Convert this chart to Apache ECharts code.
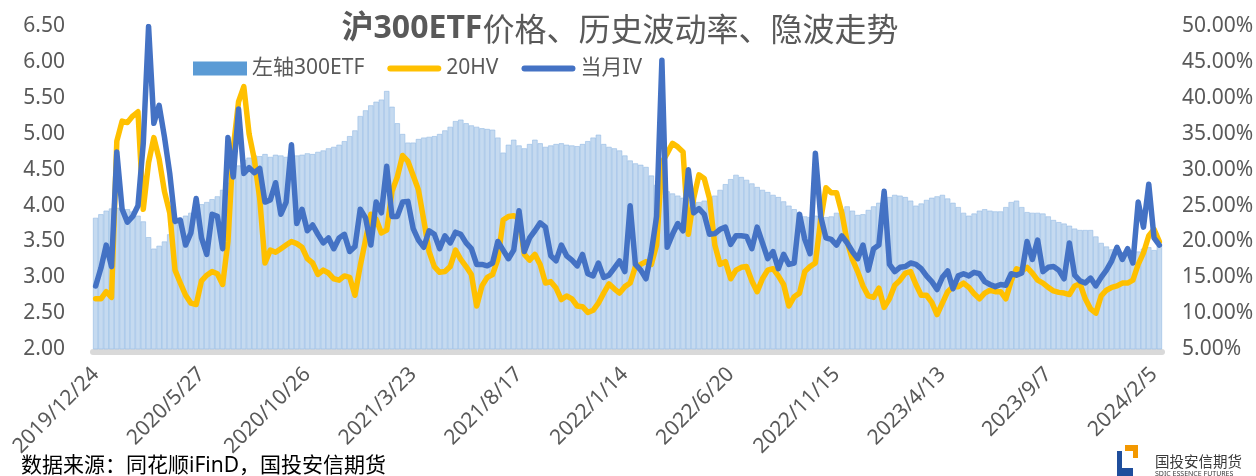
<!DOCTYPE html>
<html>
<head>
<meta charset="utf-8">
<script src="https://cdn.jsdelivr.net/npm/echarts@6/dist/echarts.min.js"></script>
<style>
html,body{margin:0;padding:0;background:#fff;}
#chart{width:1256px;height:476px;}
</style>
</head>
<body>
<div id="chart"></div>
<script>
// x轴标签，每20个点一个
var tickLabels = ['2019/12/24','2020/5/27','2020/10/26','2021/3/23','2021/8/17','2022/1/14','2022/6/20','2022/11/15','2023/4/13','2023/9/7','2024/2/5'];
var step = 20;

// 左轴 300ETF 价格
var etfPrice = [
  3.83,3.88,3.93,3.96,3.97,3.96,3.95,3.92,3.86,3.78,
  3.56,3.40,3.44,3.50,3.60,3.74,3.80,3.86,3.90,3.96,
  4.02,4.05,4.09,4.13,4.22,4.32,4.46,4.56,4.64,4.67,
  4.70,4.69,4.72,4.68,4.71,4.70,4.68,4.72,4.70,4.71,
  4.73,4.72,4.75,4.77,4.80,4.82,4.85,4.90,4.97,5.05,
  5.25,5.33,5.40,5.45,5.48,5.60,5.38,5.15,5.00,4.88,
  4.88,4.93,4.95,4.96,4.97,5.00,5.05,5.10,5.18,5.20,
  5.15,5.12,5.10,5.08,5.07,5.06,4.95,4.74,4.85,4.92,
  4.84,4.80,4.86,4.92,4.87,4.82,4.84,4.86,4.87,4.85,
  4.84,4.83,4.86,4.90,4.95,4.99,4.86,4.82,4.80,4.77,
  4.70,4.63,4.59,4.57,4.54,4.42,4.29,4.24,4.20,4.17,
  4.14,4.11,4.08,4.06,4.05,4.07,4.09,4.14,4.22,4.30,
  4.37,4.43,4.40,4.36,4.31,4.26,4.22,4.19,4.15,4.12,
  4.06,4.00,3.95,3.90,3.85,3.84,3.86,3.85,3.84,3.85,
  3.90,3.95,3.99,3.93,3.87,3.88,3.94,3.99,4.04,4.08,
  4.12,4.15,4.14,4.12,4.07,4.00,4.03,4.08,4.11,4.13,
  4.15,4.10,4.04,3.98,3.90,3.86,3.89,3.93,3.95,3.93,
  3.92,3.92,3.98,4.05,4.07,3.98,3.91,3.90,3.90,3.89,
  3.85,3.80,3.77,3.75,3.72,3.68,3.66,3.66,3.66,3.57,
  3.48,3.43,3.39,3.37,3.35,3.34,3.33,3.36,3.40,3.42,
  3.38,3.44
];

// 20日历史波动率 (%)
var hv20 = [
  12.0,12.0,13.0,12.2,34.0,36.8,36.6,37.5,38.1,24.5,
  31.0,34.5,31.5,27.0,24.0,16.0,14.2,12.5,11.4,11.2,
  14.5,15.3,15.8,15.5,14.0,20.0,33.0,39.5,41.6,35.0,
  31.4,26.0,17.0,18.8,18.5,19.0,19.5,20.0,19.7,19.2,
  17.6,17.0,15.4,16.0,15.6,14.8,14.6,15.2,15.0,12.5,
  16.6,20.2,23.8,23.1,21.2,21.6,27.0,29.0,32.0,31.2,
  29.2,27.2,23.0,18.6,16.5,15.7,15.8,16.5,18.8,17.5,
  16.5,15.4,11.0,13.8,15.0,15.4,17.5,23.0,23.5,23.6,
  23.2,18.2,17.4,18.2,16.8,14.2,14.4,13.5,11.9,12.4,
  12.0,11.0,10.9,10.1,10.4,11.4,12.8,14.1,13.4,12.8,
  13.7,14.2,16.5,16.8,17.2,16.8,19.5,31.0,32.3,33.7,
  33.2,32.5,21.0,26.0,29.3,28.8,26.0,19.5,16.8,17.2,
  14.8,16.0,16.4,16.5,14.5,13.0,14.8,16.0,16.2,15.2,
  14.0,11.0,12.3,12.8,15.8,16.5,17.0,23.0,27.5,26.8,
  26.8,24.0,20.0,17.5,15.8,13.8,12.4,12.2,13.5,10.8,
  12.0,13.9,14.6,15.6,15.8,14.0,12.5,12.5,11.5,9.8,
  11.4,13.0,13.7,13.7,14.2,13.6,12.7,12.0,12.8,13.2,
  13.0,13.0,12.0,14.5,16.2,15.9,16.4,15.6,14.6,14.2,
  13.6,13.1,12.9,12.8,12.6,13.8,14.1,12.0,10.6,10.0,
  12.4,13.2,13.6,13.8,14.2,14.2,14.6,16.8,18.4,20.8,
  21.7,20.0
];

// 当月隐含波动率 (%)
var ivMonth = [
  13.8,16.3,19.5,16.5,32.5,24.5,22.7,23.5,25.0,33.7,
  50.0,36.5,39.0,34.6,29.5,22.8,23.0,19.5,21.2,26.0,
  20.5,18.2,23.8,23.5,19.0,34.5,29.0,38.5,29.5,30.3,
  29.6,30.2,25.5,25.8,28.2,23.8,25.5,33.5,22.5,24.5,
  21.5,22.3,21.0,19.8,20.5,19.0,20.5,21.0,18.6,19.3,
  24.5,23.3,19.5,25.5,24.0,30.5,23.5,23.5,25.5,25.6,
  21.8,20.2,19.2,21.5,21.0,19.0,20.8,19.8,21.3,21.0,
  19.8,19.0,16.8,16.8,16.6,17.0,20.0,18.8,17.6,18.8,
  24.3,18.6,20.5,21.5,22.6,22.0,18.0,17.3,19.5,18.0,
  17.4,16.6,18.2,15.5,15.2,17.0,15.0,15.3,16.3,17.3,
  15.8,25.0,16.8,16.0,14.8,18.5,23.5,45.3,19.2,21.0,
  22.5,21.5,30.0,24.0,24.6,23.8,21.0,21.1,21.7,22.0,
  19.6,20.8,20.8,20.7,19.0,22.0,19.8,17.6,18.6,16.2,
  18.2,16.8,17.0,23.8,20.3,18.3,32.3,23.5,20.5,20.3,
  19.5,20.8,19.8,18.6,17.6,19.5,16.0,19.0,19.5,27.0,
  16.8,15.8,16.4,16.5,17.0,16.8,16.2,15.2,14.4,13.3,
  15.0,15.9,13.4,15.2,15.5,15.2,15.7,15.5,14.4,14.0,
  13.7,14.0,13.9,15.5,15.3,15.6,20.0,17.5,20.2,15.8,
  16.4,16.5,16.0,14.8,19.8,15.3,14.5,14.2,14.9,13.8,
  15.0,16.0,17.3,19.2,17.5,19.0,17.0,25.5,22.0,28.0,
  20.5,19.5
];

var days = etfPrice.map(function (v, i) { return 'd' + i; });

var fontLatin = "'Noto Sans', 'Noto Sans CJK SC', sans-serif";
var lineIcon = 'path://M0,0M54,14M3,4h48a3,3,0,0,1,0,6h-48a3,3,0,0,1,0,-6z';

var myChart = echarts.init(document.getElementById('chart'));

var option = {
  animation: false,
  backgroundColor: '#fff',
  title: {
    text: '{a|沪300ETF}{b|价格、历史波动率、隐波走势}',
    left: 615,
    textAlign: 'center',
    top: 8,
    textStyle: {
      rich: {
        a: {fontSize: 32, fontWeight: 'bold', color: '#595959', fontFamily: fontLatin},
        b: {fontSize: 32, fontWeight: 'normal', color: '#595959', fontFamily: "'Noto Sans CJK SC'"}
      }
    }
  },
  legend: {
    left: 188,
    top: 53,
    itemWidth: 54,
    itemHeight: 14,
    itemGap: 23,
    textStyle: {fontSize: 21, color: '#595959', fontFamily: fontLatin},
    data: [
      {name: '左轴300ETF', icon: 'rect', itemStyle: {color: '#5b9bd5', borderWidth: 0}},
      {name: '20HV', icon: lineIcon, itemStyle: {color: '#ffc000', borderWidth: 0}},
      {name: '当月IV', icon: lineIcon, itemStyle: {color: '#4472c4', borderWidth: 0}}
    ]
  },
  grid: {
    left: 93,
    right: 94,
    top: 26.5,
    bottom: 127,
    containLabel: false,
    outerBoundsMode: 'none'
  },
  xAxis: {
    type: 'category',
    data: days,
    boundaryGap: true,
    offset: 3,
    axisLine: {lineStyle: {color: '#d9d9d9', width: 6}},
    axisTick: {show: false},
    splitLine: {show: false},
    axisLabel: {
      interval: step - 1,
      rotate: 45,
      margin: 19,
      fontSize: 21,
      color: '#595959',
      fontFamily: fontLatin,
      formatter: function (v, i) {
        return i % step === 0 ? (tickLabels[i / step] || '') : '';
      }
    }
  },
  yAxis: [
    {
      type: 'value',
      min: 2,
      max: 6.5,
      interval: 0.5,
      position: 'left',
      axisLine: {show: false},
      axisTick: {show: false},
      splitLine: {show: false},
      axisLabel: {
        margin: 28,
        fontSize: 21,
        color: '#595959',
        fontFamily: fontLatin,
        formatter: function (v) { return v.toFixed(2); }
      }
    },
    {
      type: 'value',
      min: 5,
      max: 50,
      interval: 5,
      position: 'right',
      axisLine: {show: false},
      axisTick: {show: false},
      splitLine: {show: false},
      axisLabel: {
        margin: 20,
        fontSize: 21,
        color: '#595959',
        fontFamily: fontLatin,
        formatter: function (v) { return v.toFixed(2) + '%'; }
      }
    }
  ],
  series: [
    {
      name: '左轴300ETF',
      type: 'bar',
      yAxisIndex: 0,
      data: etfPrice,
      barCategoryGap: '0%',
      itemStyle: {color: '#c5daf0', borderColor: '#93bbe4', borderWidth: 0.6}
    },
    {
      name: '20HV',
      type: 'line',
      yAxisIndex: 1,
      data: hv20,
      symbol: 'none',
      itemStyle: {color: '#ffc000'},
      lineStyle: {color: '#ffc000', width: 5.5, cap: 'round', join: 'round'}
    },
    {
      name: '当月IV',
      type: 'line',
      yAxisIndex: 1,
      data: ivMonth,
      symbol: 'none',
      itemStyle: {color: '#4472c4'},
      lineStyle: {color: '#4472c4', width: 5.5, cap: 'round', join: 'round'}
    }
  ],
  graphic: [
    {
      type: 'text',
      x: 21,
      y: 466,
      style: {
        text: '数据来源：同花顺iFinD，国投安信期货',
        font: "21px 'Noto Sans', 'Noto Sans CJK SC'",
        fill: '#000',
        verticalAlign: 'middle'
      }
    },
    // 公司标识
    {type: 'rect', shape: {x: 1125, y: 445, width: 13, height: 13}, style: {fill: '#f39800'}},
    {type: 'rect', shape: {x: 1117, y: 451, width: 16, height: 25}, style: {fill: '#1f4e9c'}},
    {type: 'rect', shape: {x: 1122, y: 451, width: 11, height: 17}, style: {fill: '#fff'}},
    {
      type: 'text',
      x: 1155,
      y: 461,
      style: {text: '国投安信期货', font: "14.5px 'Noto Sans CJK SC'", fill: '#3a3a3a', verticalAlign: 'middle'}
    },
    {
      type: 'text',
      x: 1155,
      y: 474,
      style: {text: 'SDIC ESSENCE FUTURES', font: "7px 'Noto Sans'", fill: '#3a3a3a', verticalAlign: 'middle'}
    }
  ]
};

myChart.setOption(option);
window.onresize = myChart.resize;
</script>
</body>
</html>
